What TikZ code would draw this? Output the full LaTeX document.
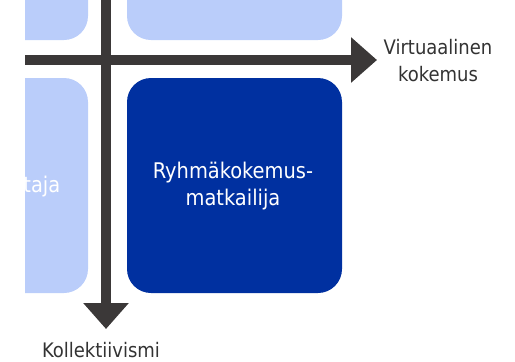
\documentclass[tikz,border=0pt]{standalone}
\usepackage{fontspec}
\setmainfont{DejaVu Sans Condensed}
\usetikzlibrary{arrows.meta}
\definecolor{lightbox}{HTML}{BACDFA}
\definecolor{darkbox}{HTML}{0030A0}
\definecolor{axis}{HTML}{3B3838}
\definecolor{labelc}{HTML}{333333}
\tikzset{
  lbox/.style={fill=lightbox, draw=none},
  dbox/.style={fill=darkbox, draw=none},
  axisarrow/.style={draw=axis, line width=10pt, -{Triangle[length=26pt, width=44pt]}},
  boxtext/.style={text=white, font=\fontsize{21.6}{27}\selectfont, align=center},
  axislabel/.style={text=labelc, font=\fontsize{20}{27}\selectfont, align=center}
}
\begin{document}
\begin{tikzpicture}[x=1pt, y=-1pt]
\useasboundingbox (0,0) rectangle (515,362);
\begin{scope}
\clip (25,0) rectangle (515,362);
% top-left box (mostly cropped)
\fill[lbox, rounded corners=24pt] (-100,-50) rectangle (88,40);
% top-middle box
\fill[lbox, rounded corners=24pt] (127,-50) rectangle (342,40);
% left middle box
\fill[lbox, rounded corners=24pt] (-100,78) rectangle (88,293);
\node[boxtext, anchor=base east, inner sep=0pt] (tl) at (60.5,192) {taja};
\end{scope}
% dark box
\fill[dbox, rounded corners=24pt] (127,78) rectangle (342,293);
\node[boxtext] (ryhma) at (233,186) {Ryhmäkokemus-\\matkailija};
% axes
\coordinate (hstart) at (25,60);
\coordinate (hend) at (377,60);
\coordinate (vstart) at (106,0);
\coordinate (vend) at (106,329);
\draw[axisarrow] (hstart) -- (hend);
\draw[axisarrow] (vstart) -- (vend);
\node[axislabel] (virt) at (438,61) {Virtuaalinen\\kokemus};
\node[axislabel] (koll) at (101,350) {Kollektiivismi};
\end{tikzpicture}
\end{document}
